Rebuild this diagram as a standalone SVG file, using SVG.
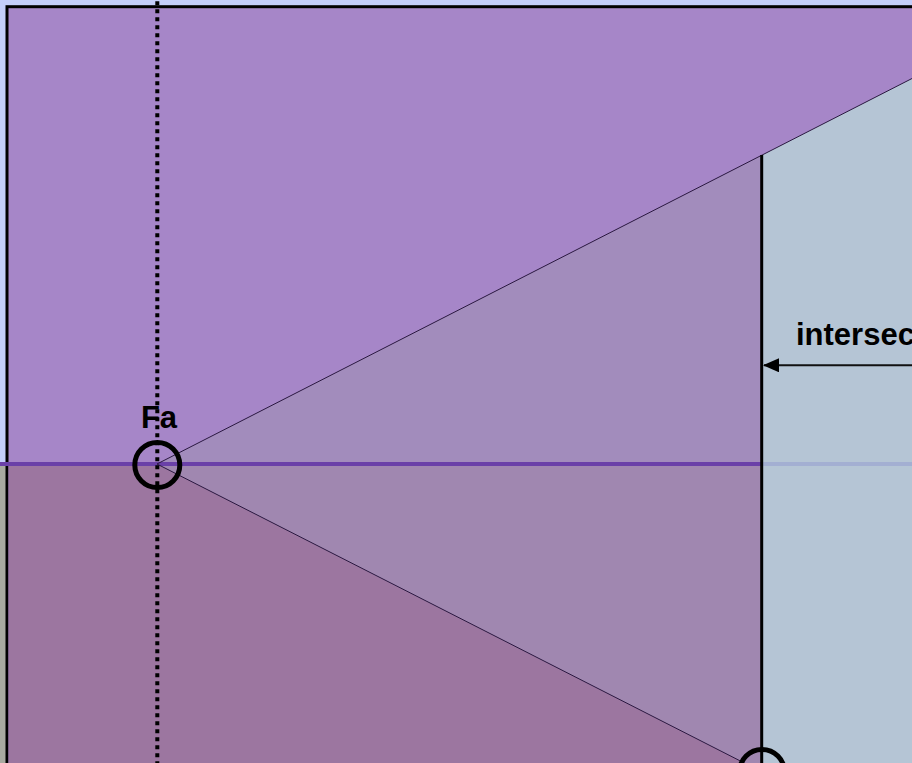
<svg xmlns="http://www.w3.org/2000/svg" width="912" height="763" viewBox="0 0 912 763">
<style>
.edge{stroke:#2a1840;stroke-width:1;fill:none}
.ring{fill:none;stroke:#000;stroke-width:5}
.lbl{font-family:"Liberation Sans",Arial,sans-serif;font-weight:bold;font-size:31px;fill:#000}
</style>
<defs>
<marker id="ah" viewBox="0 0 16 14" refX="15" refY="7" markerWidth="16" markerHeight="14" markerUnits="userSpaceOnUse" orient="auto">
<path d="M0,0 L16,7 L0,14 Z" fill="#000"/>
</marker>
</defs>
<g id="background">
<rect x="0" y="0" width="912" height="465" fill="#c4cefa"/>
<rect x="0" y="465" width="912" height="298" fill="#a8aaa0"/>
</g>
<g id="frame">
<rect x="7" y="6.7" width="920" height="780" fill="#a686c8" stroke="#000" stroke-width="3"/>
<rect x="8.5" y="465" width="754" height="300" fill="#9c76a0"/>
</g>
<g id="cone">
<polygon points="157,464 762,155 762,464" fill="#a28cbc"/>
<polygon points="157,464 762,464 762,772" fill="#a087b0"/>
</g>
<g id="region-right">
<polygon points="762,155 912,78.5 912,763 762,763" fill="#b5c5d5"/>
</g>
<g id="connectors">
<line x1="0" y1="464" x2="762" y2="464" stroke="#6a40a8" stroke-width="4"/>
<line x1="762" y1="464" x2="912" y2="464" stroke="#a3afd2" stroke-width="4"/>
<line class="edge" x1="157" y1="464" x2="912" y2="78.5"/>
<line class="edge" x1="157" y1="464" x2="762" y2="772"/>
<line x1="761.7" y1="155" x2="761.7" y2="763" stroke="#000" stroke-width="3"/>
<line x1="157.3" y1="1.3" x2="157.3" y2="763" stroke="#000" stroke-width="4" stroke-dasharray="4 4"/>
<line x1="912" y1="365.3" x2="764" y2="365.3" stroke="#111" stroke-width="2" marker-end="url(#ah)"/>
</g>
<g id="node-Fa">
<circle class="ring" cx="157.3" cy="465" r="22.5"/>
<text class="lbl" x="159" y="428" text-anchor="middle">Fa</text>
</g>
<g id="node-bottom">
<circle class="ring" cx="762" cy="772" r="22.5"/>
</g>
<g id="label-intersec">
<text class="lbl" x="796" y="345">intersec</text>
</g>
</svg>
